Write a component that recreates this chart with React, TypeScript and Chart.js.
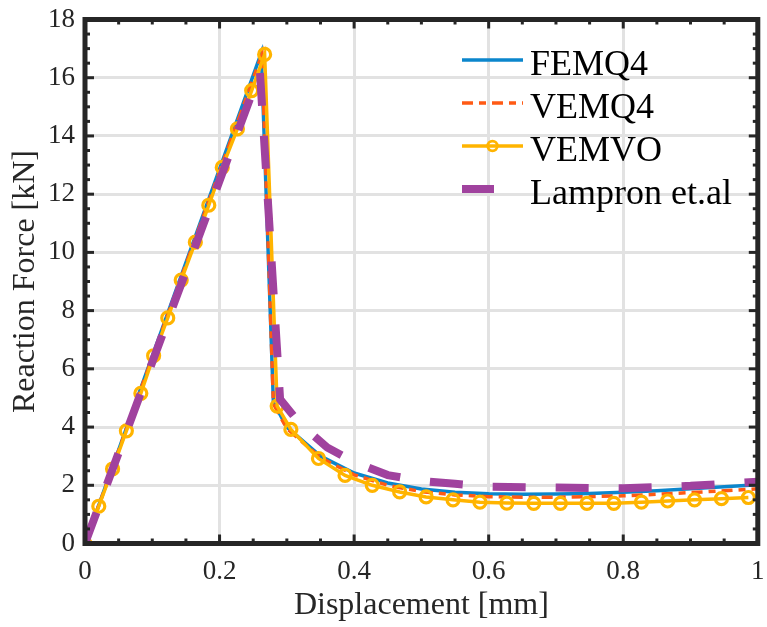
import React, { useEffect, useRef } from "react";
import { Chart, registerables } from "chart.js";

Chart.register(...registerables);

const seriesLabels = ["FEMQ4", "VEMQ4", "VEMVO", "Lampron et.al"];
const seriesColors = ["#0b86cc", "#ff5a14", "#ffb400", "#a0429e"];

const femq4X = [0, 0.262, 0.28, 0.3, 0.35, 0.4, 0.45, 0.5, 0.55, 0.6, 0.65, 0.7, 0.75, 0.8, 0.85, 0.9, 0.95, 1.0];
const femq4Y = [0, 16.85, 4.85, 4.0, 3.0, 2.42, 2.08, 1.87, 1.76, 1.71, 1.69, 1.7, 1.72, 1.76, 1.81, 1.88, 1.95, 2.02];

const vemq4X = [0, 0.263, 0.28, 0.3, 0.35, 0.4, 0.45, 0.5, 0.55, 0.6, 0.65, 0.7, 0.75, 0.8, 0.85, 0.9, 0.95, 1.0];
const vemq4Y = [0, 16.8, 4.8, 3.95, 2.95, 2.36, 2.0, 1.78, 1.67, 1.61, 1.59, 1.59, 1.61, 1.64, 1.69, 1.75, 1.81, 1.88];

const vemvoX = [0, 0.0205, 0.041, 0.0615, 0.083, 0.102, 0.123, 0.143, 0.164, 0.184, 0.204, 0.2265, 0.2477, 0.267, 0.2856, 0.306, 0.347, 0.3865, 0.427, 0.4677, 0.507, 0.547, 0.587, 0.627, 0.667, 0.7066, 0.746, 0.786, 0.827, 0.866, 0.906, 0.946, 0.986];
const vemvoY = [0, 1.28, 2.56, 3.87, 5.16, 6.45, 7.75, 9.05, 10.35, 11.62, 12.92, 14.24, 15.56, 16.8, 4.72, 3.92, 2.92, 2.34, 2.0, 1.77, 1.6, 1.5, 1.42, 1.39, 1.38, 1.38, 1.38, 1.38, 1.42, 1.46, 1.5, 1.54, 1.58];

const lampronX = [0, 0.26, 0.29, 0.32, 0.36, 0.4, 0.45, 0.5, 0.55, 0.6, 0.7, 0.8, 0.9, 1.0];
const lampronY = [0, 16.2, 4.95, 4.1, 3.3, 2.8, 2.35, 2.15, 2.05, 1.95, 1.92, 1.9, 1.98, 2.12];

const xTitle = "Displacement [mm]";
const yTitle = "Reaction Force [kN]";

const FONT = "'Liberation Serif', 'Times New Roman', serif";
const AXIS_COLOR = "#262626";

const toPts = (xs: number[], ys: number[]) => xs.map((x, i) => ({ x, y: ys[i] }));
const fmtTick = (v: any) => String(Math.round(Number(v) * 10) / 10);

const framePlugin = {
  id: "matlabFrame",
  afterDatasetsDraw(chart: any) {
    const { ctx, chartArea, scales } = chart;
    const { left, right, top, bottom } = chartArea;
    const xs = scales.x;
    const ys = scales.y;
    ctx.save();
    ctx.strokeStyle = AXIS_COLOR;
    ctx.lineWidth = 3;
    ctx.lineCap = "butt";
    const seg = (x1: number, y1: number, x2: number, y2: number) => {
      ctx.beginPath();
      ctx.moveTo(x1, y1);
      ctx.lineTo(x2, y2);
      ctx.stroke();
    };
    for (let i = 0; i <= 20; i++) {
      const v = i * 0.05;
      const px = xs.getPixelForValue(v);
      const len = i % 4 === 0 ? 9 : 5;
      seg(px, bottom, px, bottom - len);
      seg(px, top, px, top + len);
    }
    for (let i = 0; i <= 36; i++) {
      const v = i * 0.5;
      const py = ys.getPixelForValue(v);
      const len = i % 4 === 0 ? 9 : 5;
      seg(left, py, left + len, py);
      seg(right, py, right - len, py);
    }
    ctx.lineWidth = 5;
    ctx.strokeRect(left, top, right - left, bottom - top);
    ctx.restore();
  },
};

const legendPlugin = {
  id: "matlabLegend",
  afterDraw(chart: any) {
    const { ctx } = chart;
    ctx.save();
    const x0 = 462;
    const x1 = 523;
    const textX = 530;
    const rows = [60, 103, 146, 189];
    ctx.font = `36px ${FONT}`;
    ctx.fillStyle = "#000000";
    ctx.textBaseline = "alphabetic";
    ctx.textAlign = "left";
    seriesLabels.forEach((label, i) => {
      const y = rows[i];
      ctx.strokeStyle = seriesColors[i];
      ctx.setLineDash([]);
      if (i === 0) {
        ctx.lineWidth = 3.5;
        ctx.beginPath();
        ctx.moveTo(x0, y);
        ctx.lineTo(x1, y);
        ctx.stroke();
      } else if (i === 1) {
        ctx.lineWidth = 3.5;
        ctx.setLineDash([11, 6, 7, 6]);
        ctx.beginPath();
        ctx.moveTo(x0, y);
        ctx.lineTo(x1, y);
        ctx.stroke();
        ctx.setLineDash([]);
      } else if (i === 2) {
        ctx.lineWidth = 3.5;
        ctx.beginPath();
        ctx.moveTo(x0, y);
        ctx.lineTo(x1, y);
        ctx.stroke();
        ctx.lineWidth = 2.8;
        ctx.beginPath();
        ctx.arc((x0 + x1) / 2, y, 4.8, 0, Math.PI * 2);
        ctx.stroke();
      } else {
        ctx.lineWidth = 8;
        ctx.beginPath();
        ctx.moveTo(x0, y);
        ctx.lineTo(x0 + 32, y);
        ctx.stroke();
      }
      ctx.fillText(label, textX, y + 15);
    });
    ctx.restore();
  },
};

export default function App() {
  const canvasRef = useRef<HTMLCanvasElement | null>(null);

  useEffect(() => {
    if (!canvasRef.current) return;
    const chart = new Chart(canvasRef.current, {
      type: "line",
      data: {
        datasets: [
          {
            label: seriesLabels[0],
            data: toPts(femq4X, femq4Y),
            borderColor: seriesColors[0],
            borderWidth: 3.5,
            pointRadius: 0,
            tension: 0,
            order: 3,
          },
          {
            label: seriesLabels[1],
            data: toPts(vemq4X, vemq4Y),
            borderColor: seriesColors[1],
            borderWidth: 3.5,
            borderDash: [11, 6, 7, 6],
            pointRadius: 0,
            tension: 0,
            order: 2,
          },
          {
            label: seriesLabels[2],
            data: toPts(vemvoX, vemvoY),
            borderColor: seriesColors[2],
            borderWidth: 3.5,
            pointRadius: 6,
            pointBorderWidth: 3.2,
            pointBorderColor: seriesColors[2],
            pointBackgroundColor: "rgba(255,255,255,0)",
            tension: 0,
            order: 1,
          },
          {
            label: seriesLabels[3],
            data: toPts(lampronX, lampronY),
            borderColor: seriesColors[3],
            borderWidth: 8,
            borderDash: [33, 30],
            borderCapStyle: "butt",
            pointRadius: 0,
            tension: 0,
            order: 0,
          },
        ] as any,
      },
      options: {
        responsive: false,
        animation: false,
        layout: { padding: { top: 19.5, right: 5.5, left: 0, bottom: 0 } },
        plugins: {
          legend: { display: false },
          tooltip: { enabled: false },
        },
        scales: {
          x: {
            type: "linear",
            min: 0,
            max: 1,
            ticks: {
              stepSize: 0.2,
              color: AXIS_COLOR,
              font: { family: FONT, size: 27 },
              padding: 12,
              maxRotation: 0,
              callback: fmtTick,
            },
            grid: { color: "#e2e2e2", lineWidth: 3, drawTicks: false },
            border: { display: false },
            title: {
              display: true,
              text: xTitle,
              color: AXIS_COLOR,
              font: { family: FONT, size: 32 },
              padding: { top: 0, bottom: 2 },
            },
            afterFit: (scale: any) => {
              scale.height = 83.5;
              scale.paddingLeft = 0;
              scale.paddingRight = 0;
            },
          },
          y: {
            type: "linear",
            min: 0,
            max: 18,
            ticks: {
              stepSize: 2,
              color: AXIS_COLOR,
              font: { family: FONT, size: 27 },
              padding: 10,
              callback: fmtTick,
            },
            grid: { color: "#e2e2e2", lineWidth: 3, drawTicks: false },
            border: { display: false },
            title: {
              display: true,
              text: yTitle,
              color: AXIS_COLOR,
              font: { family: FONT, size: 32 },
              padding: { top: 6, bottom: 0 },
            },
            afterFit: (scale: any) => {
              scale.width = 85;
              scale.paddingTop = 0;
              scale.paddingBottom = 0;
            },
          },
        },
      } as any,
      plugins: [framePlugin, legendPlugin],
    });
    return () => chart.destroy();
  }, []);

  return (
    <div style={{ position: "absolute", left: 0, top: 0, width: 767, height: 627, background: "#ffffff" }}>
      <canvas ref={canvasRef} width={767} height={627} style={{ display: "block" }} />
    </div>
  );
}
